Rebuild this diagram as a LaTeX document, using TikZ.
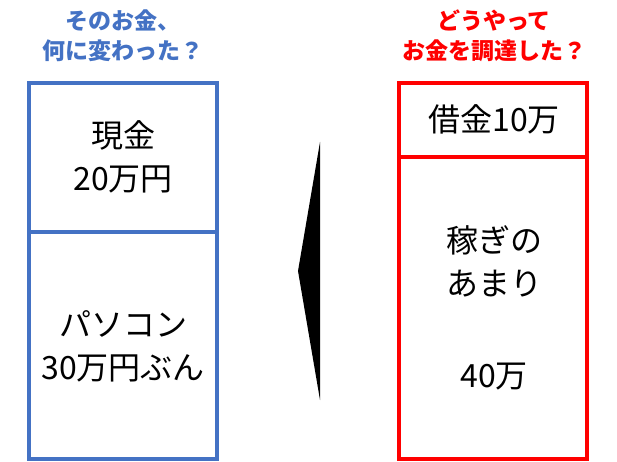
\documentclass[tikz,border=0pt]{standalone}
\usepackage{fontspec}
\setmainfont{Noto Sans CJK JP}
\definecolor{boxblue}{HTML}{4472C4}
\definecolor{boxred}{HTML}{FF0000}
\tikzset{
  heading/.style={align=center, font=\bfseries\fontsize{23}{30}\selectfont},
  boxtext/.style={align=center, font=\fontsize{32}{43}\selectfont},
}
\begin{document}
\begin{tikzpicture}[x=1pt,y=-1pt]
        \useasboundingbox (0,0) rectangle (617,462);
        % left side
        \node[heading, text=boxblue] (useQ) at (123,36) {そのお金、\\何に変わった？};
        \draw[boxblue, line width=3.5pt] (29,83) rectangle (217,459);
        \draw[boxblue, line width=3.5pt] (29,232) -- (217,232);
        \node[boxtext] (cash) at (123,157) {現金\\20万円};
        \node[boxtext] (pc) at (123,346) {パソコン\\30万円ぶん};
        % right side
        \node[heading, text=boxred] (srcQ) at (494,36) {どうやって\\お金を調達した？};
        \draw[boxred, line width=3.5pt] (399,83) rectangle (587,459);
        \draw[boxred, line width=3.5pt] (399,157) -- (587,157);
        \node[boxtext] (loan) at (494,119) {借金10万};
        \node[boxtext] (earn) at (494,261) {稼ぎの\\あまり};
        \node[boxtext] (amt) at (494,377) {40万};
        % arrow
        \fill (320,142) -- (298,271) -- (320,400) -- cycle;
\end{tikzpicture}
\end{document}
